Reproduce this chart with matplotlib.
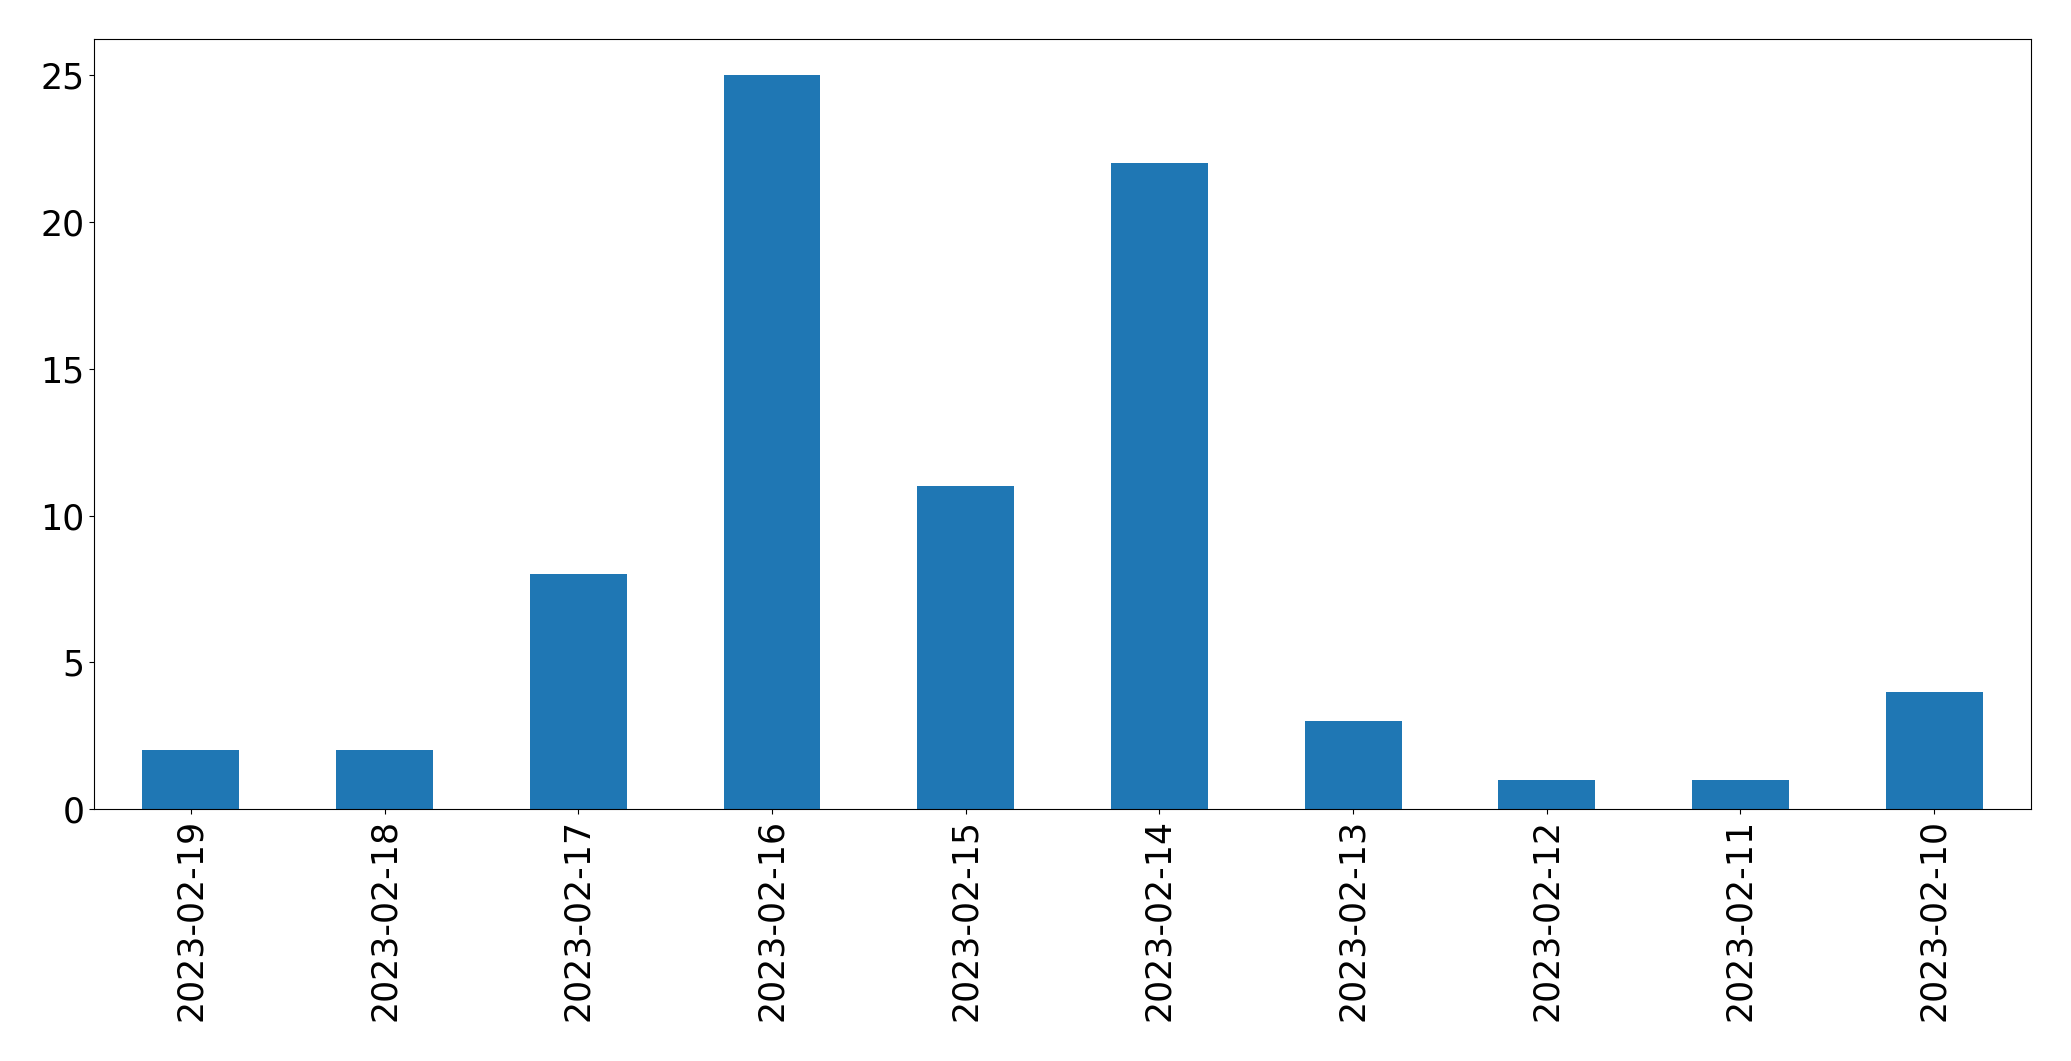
import matplotlib
matplotlib.use("Agg")
import matplotlib.pyplot as plt
import numpy as np

dates = ["2023-02-19", "2023-02-18", "2023-02-17", "2023-02-16", "2023-02-15",
         "2023-02-14", "2023-02-13", "2023-02-12", "2023-02-11", "2023-02-10"]
counts = [2, 2, 8, 25, 11, 22, 3, 1, 1, 4]

fig = plt.figure(figsize=(20.71, 10.61), dpi=100)
ax = fig.add_axes([0.0454, 0.2375, 0.9353, 0.7260])

x = np.arange(len(dates))
ax.bar(x, counts, width=0.5, color="#1f77b4")
ax.set_xlim(-0.5, len(dates) - 0.5)
ax.set_ylim(0, max(counts) * 1.05)
ax.set_xticks(x)
ax.set_xticklabels(dates, rotation=90)
ax.tick_params(axis="both", labelsize=25)

fig.savefig("out.png", dpi=100)
